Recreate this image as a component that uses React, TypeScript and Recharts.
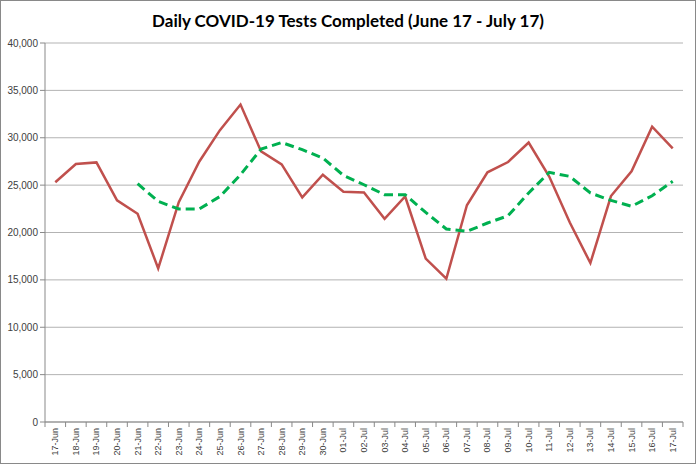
import React from 'react';
import { LineChart, Line, XAxis, YAxis, CartesianGrid } from 'recharts';

// 31 days, 17-Jun to 17-Jul
const days = [
  '17-Jun', '18-Jun', '19-Jun', '20-Jun', '21-Jun', '22-Jun', '23-Jun', '24-Jun',
  '25-Jun', '26-Jun', '27-Jun', '28-Jun', '29-Jun', '30-Jun', '01-Jul', '02-Jul',
  '03-Jul', '04-Jul', '05-Jul', '06-Jul', '07-Jul', '08-Jul', '09-Jul', '10-Jul',
  '11-Jul', '12-Jul', '13-Jul', '14-Jul', '15-Jul', '16-Jul', '17-Jul',
];

const dailyTests = [
  25300, 27230, 27400, 23400, 21980, 16210, 23200, 27500,
  30800, 33500, 28560, 27190, 23700, 26100, 24300, 24230,
  21450, 23800, 17240, 15120, 22880, 26350, 27440, 29500,
  25900, 21050, 16780, 23850, 26450, 31170, 28880,
];

// rolling average, starts on 21-Jun
const rollingAverage = [
  null, null, null, null, 25150, 23280, 22480, 22480,
  23800, 26100, 28800, 29500, 28740, 27860, 26030, 25040,
  23990, 23990, 22120, 20370, 20120, 21000, 21770, 24170,
  26350, 25920, 24170, 23390, 22760, 23880, 25400,
];

const yTicks = [0, 5000, 10000, 15000, 20000, 25000, 30000, 35000, 40000];

const data = days.map((day, i) => ({
  day,
  daily: dailyTests[i],
  average: rollingAverage[i],
}));

const HALF = 638 / 31 / 2;

const DayTick = (props: any) => {
  const { x, y, payload, index } = props;
  return (
    <g>
      <line x1={x - HALF} x2={x - HALF} y1={422} y2={427} stroke="#898989" />
      {index === days.length - 1 && (
        <line x1={x + HALF} x2={x + HALF} y1={422} y2={427} stroke="#898989" />
      )}
      <text
        x={x}
        y={y}
        transform={`rotate(-90 ${x} ${y})`}
        textAnchor="end"
        dominantBaseline="central"
        fontSize={9}
        fill="#404040"
        fontFamily="Liberation Sans, Arial, sans-serif"
      >
        {payload.value}
      </text>
    </g>
  );
};

export default function App() {
  return (
    <div style={{ position: 'absolute', left: 0, top: 0, width: 696, height: 464, background: '#fff' }}>
      <div
        style={{
          position: 'absolute',
          top: 10,
          left: 0,
          width: 696,
          textAlign: 'center',
          fontFamily: 'Lato, sans-serif',
          fontWeight: 700,
          fontSize: 17,
          color: '#000',
        }}
      >
        Daily COVID-19 Tests Completed (June 17 - July 17)
      </div>
      <LineChart width={696} height={464} data={data} margin={{ top: 43, right: 13, bottom: 0, left: 0 }}>
        <CartesianGrid vertical={false} stroke="#b3b3b3" />
        <XAxis
          dataKey="day"
          interval={0}
          height={42}
          padding={{ left: HALF, right: HALF }}
          tick={<DayTick />}
          tickLine={false}
          tickSize={4}
          axisLine={{ stroke: '#898989' }}
        />
        <YAxis
          width={45}
          domain={[0, 40000]}
          ticks={yTicks}
          tickSize={5}
          tickLine={{ stroke: '#898989' }}
          axisLine={{ stroke: '#898989' }}
          tickFormatter={(v: number) => v.toLocaleString('en-US')}
          tick={{ fontSize: 10, fill: '#404040', fontFamily: 'Liberation Sans, Arial, sans-serif' }}
        />
        <Line
          type="linear"
          dataKey="daily"
          stroke="#C0504D"
          strokeWidth={2.5}
          dot={false}
          isAnimationActive={false}
        />
        <Line
          type="linear"
          dataKey="average"
          stroke="#00B050"
          strokeWidth={3}
          strokeDasharray="9 5"
          dot={false}
          isAnimationActive={false}
        />
      </LineChart>
      <div
        style={{
          position: 'absolute',
          left: 0,
          top: 0,
          width: 696,
          height: 464,
          boxSizing: 'border-box',
          border: '1px solid #898989',
          pointerEvents: 'none',
        }}
      />
    </div>
  );
}
